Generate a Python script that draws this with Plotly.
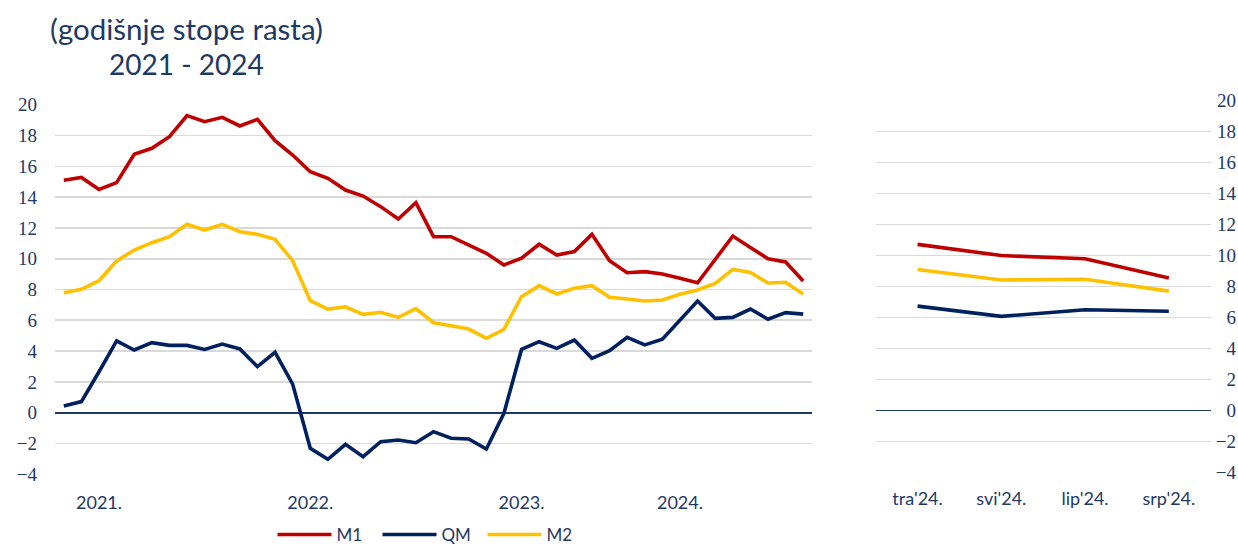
import plotly.graph_objects as go

# ---------------- data ----------------
months_hr = ["sij", "velj", "ožu", "tra", "svi", "lip", "srp", "kol", "ruj", "lis", "stu", "pro"]
categories = []
for yy in ["21", "22", "23", "24"]:
    for m in months_hr:
        categories.append(f"{m}'{yy}.")
categories = categories[:43]  # sij'21. ... srp'24.

year_tick_positions = ["ožu'21.", "ožu'22.", "ožu'23.", "pro'23."]
year_tick_labels = ["2021.", "2022.", "2023.", "2024."]

M1 = [15.1, 15.28, 14.5, 14.94, 16.78, 17.17, 17.92, 19.29, 18.9, 19.18, 18.62, 19.05,
      17.66, 16.73, 15.65, 15.22, 14.46, 14.07, 13.38, 12.58, 13.64, 11.43, 11.43, 10.89,
      10.35, 9.59, 10.03, 10.94, 10.24, 10.46, 11.58, 9.87, 9.09, 9.16, 9.01, 8.73,
      8.44, 9.95, 11.47, 10.72, 10.0, 9.79, 8.55]
QM = [0.43, 0.72, 2.66, 4.66, 4.07, 4.55, 4.37, 4.37, 4.11, 4.46, 4.14, 2.99,
      3.92, 1.86, -2.31, -3.03, -2.05, -2.86, -1.88, -1.77, -1.95, -1.23, -1.66, -1.71,
      -2.36, -0.04, 4.11, 4.61, 4.18, 4.72, 3.53, 4.03, 4.9, 4.4, 4.77, 6.02,
      7.25, 6.13, 6.19, 6.73, 6.07, 6.5, 6.4]
M2 = [7.79, 8.01, 8.57, 9.85, 10.56, 11.04, 11.43, 12.23, 11.86, 12.23, 11.75, 11.58,
      11.26, 9.87, 7.27, 6.73, 6.88, 6.39, 6.52, 6.19, 6.76, 5.84, 5.65, 5.43,
      4.83, 5.41, 7.53, 8.25, 7.71, 8.08, 8.25, 7.49, 7.38, 7.25, 7.32, 7.69,
      7.97, 8.4, 9.31, 9.1, 8.42, 8.47, 7.7]

recent_categories = ["tra'24.", "svi'24.", "lip'24.", "srp'24."]

series_names = ["M1", "QM", "M2"]
series_values = [M1, QM, M2]
series_colors = ["#C00000", "#002060", "#FFC000"]

y_ticks = [-4, -2, 0, 2, 4, 6, 8, 10, 12, 14, 16, 18, 20]

title_line1 = "(godišnje stope rasta)"
title_line2 = "2021 - 2024"

# ---------------- figure ----------------
NAVY = "#1F3864"
W, H = 1238, 546

fig = go.Figure()
for name, vals, col in zip(series_names, series_values, series_colors):
    fig.add_trace(go.Scatter(x=categories, y=vals, name=name, mode="lines",
                             line=dict(color=col, width=3.6), xaxis="x", yaxis="y",
                             hoverinfo="skip"))
for name, vals, col in zip(series_names, series_values, series_colors):
    fig.add_trace(go.Scatter(x=recent_categories, y=vals[-4:], name=name, mode="lines",
                             line=dict(color=col, width=3.6), xaxis="x2", yaxis="y2",
                             showlegend=False, hoverinfo="skip"))

SERIF = "Liberation Serif, Times New Roman, Times, DejaVu Serif, serif"
tick_font_serif = dict(family=SERIF, size=19, color=NAVY)
tick_font_sans = dict(family="Lato", size=18, color=NAVY)

fig.update_layout(
    width=W, height=H,
    margin=dict(l=0, r=0, t=0, b=0, autoexpand=False),
    paper_bgcolor="white", plot_bgcolor="white",
    xaxis=dict(domain=[55 / W, 812 / W], type="category", range=[-0.5, 42.5],
               tickvals=year_tick_positions, ticktext=year_tick_labels,
               showgrid=False, zeroline=False, showline=False, ticks="",
               tickfont=tick_font_sans, ticklabelstandoff=16, anchor="y"),
    yaxis=dict(domain=[(H - 474.3) / H, (H - 104.7) / H], range=[-4, 20],
               tickvals=y_ticks, showgrid=True, gridcolor="#D9D9D9", gridwidth=1.6,
               zeroline=True, zerolinecolor=NAVY, zerolinewidth=1.6,
               showline=False, ticks="", tickfont=tick_font_serif,
               ticklabelstandoff=17, anchor="x"),
    xaxis2=dict(domain=[875.7 / W, 1210.7 / W], type="category", range=[-0.5, 3.5],
                showgrid=False, zeroline=False, showline=False, ticks="",
                tickfont=tick_font_sans, ticklabelstandoff=14, anchor="y2"),
    yaxis2=dict(domain=[(H - 472.3) / H, (H - 100.7) / H], range=[-4, 20],
                tickvals=y_ticks, showgrid=True, gridcolor="#D9D9D9", gridwidth=1.6,
                zeroline=True, zerolinecolor=NAVY, zerolinewidth=1.6,
                showline=False, ticks="", tickfont=tick_font_serif,
                side="left", anchor="free", position=1.0, ticklabelstandoff=2),
    legend=dict(orientation="h", x=430 / W, xanchor="center", y=(H - 535) / H,
                yanchor="middle", font=dict(family="Lato", size=17, color=NAVY),
                itemwidth=54, entrywidth=36, entrywidthmode="pixels",
                bgcolor="rgba(0,0,0,0)"),
    showlegend=True,
)

fig.add_annotation(text=title_line1, xref="paper", yref="paper",
                   x=186.5 / W, y=(H - 28) / H, xanchor="center", yanchor="middle",
                   showarrow=False, font=dict(family="Lato", size=29.5, color=NAVY))
fig.add_annotation(text=title_line2, xref="paper", yref="paper",
                   x=186.5 / W, y=(H - 64) / H, xanchor="center", yanchor="middle",
                   showarrow=False, font=dict(family="Lato", size=28, color=NAVY))

fig.write_html("out.html", config={"displayModeBar": False, "staticPlot": True},
               post_script="document.body.style.margin='0';document.body.style.overflow='hidden';")
